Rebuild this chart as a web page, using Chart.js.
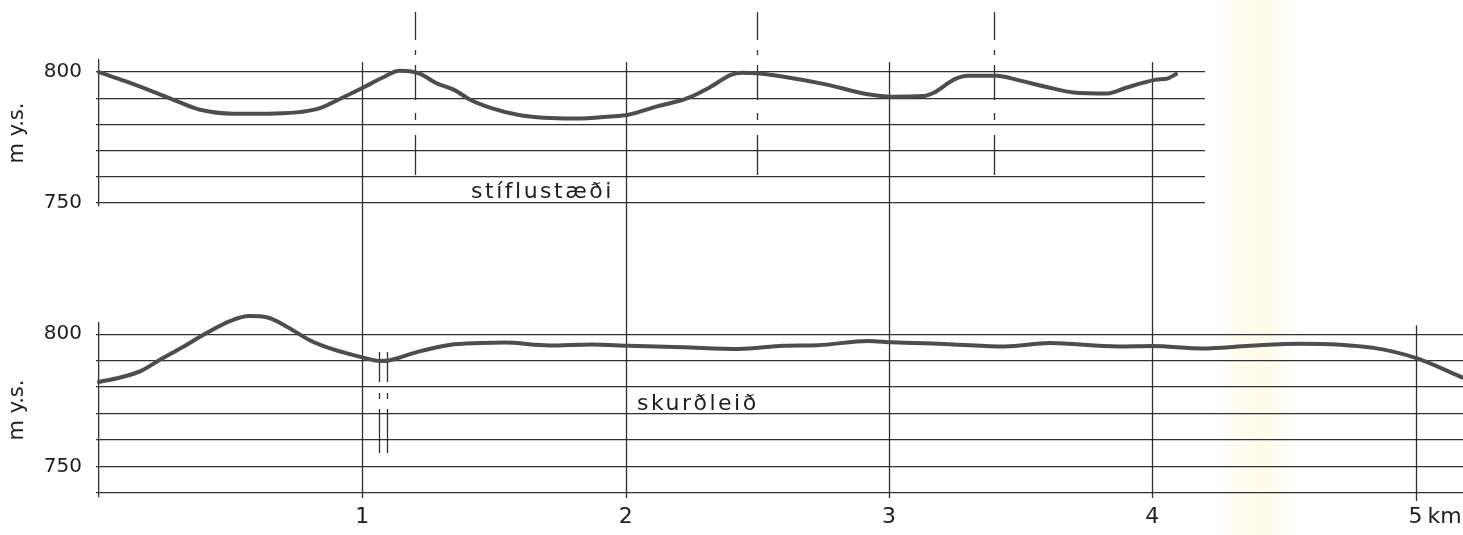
<!DOCTYPE html>
<html>
<head>
<meta charset="utf-8">
<script src="https://cdn.jsdelivr.net/npm/chart.js@4.4.1/dist/chart.umd.min.js"></script>
<style>
  html, body { margin: 0; padding: 0; }
  body {
    width: 1463px; height: 535px; overflow: hidden; position: relative;
    background: linear-gradient(to right, #fff 0, #fff 1215px, #fffcef 1240px, #fffbeb 1265px, #fff 1300px, #fff 100%);
  }
  canvas { position: absolute; left: 0; }
  #damChart { top: 0; }
  #canalChart { top: 300px; }
</style>
</head>
<body>
<canvas id="damChart" width="1463" height="300"></canvas>
<canvas id="canalChart" width="1463" height="235"></canvas>
<script>
// Distance ticks (km) shared by both profiles
const kmTicks = [1, 2, 3, 4, 5];
// Elevation grid (m above sea level)
const elevTicksTop = [750, 760, 770, 780, 790, 800];
const elevTicksBottom = [740, 750, 760, 770, 780, 790, 800];
const elevLabels = [750, 800];

// Profile along the dam sites (stíflustæði)
const damKm   = [0.00, 0.10, 0.20, 0.30, 0.38, 0.51, 0.64, 0.83, 0.92, 1.00, 1.08, 1.14, 1.18, 1.22, 1.28, 1.35, 1.41, 1.49, 1.59, 1.69, 1.81, 1.94, 2.01, 2.12, 2.23, 2.32, 2.40, 2.44, 2.50, 2.60, 2.76, 2.92, 3.01, 3.13, 3.17, 3.25, 3.30, 3.41, 3.49, 3.59, 3.70, 3.83, 3.90, 4.01, 4.06, 4.09];
const damElev = [800.0, 796.5, 792.7, 788.7, 785.7, 784.1, 784.1, 785.9, 790.0, 793.9, 798.0, 800.5, 800.3, 799.3, 795.8, 793.1, 789.4, 786.2, 783.7, 782.5, 782.2, 783.0, 783.7, 786.9, 789.8, 794.2, 798.9, 799.7, 799.5, 798.2, 795.3, 791.5, 790.6, 790.8, 792.1, 797.3, 798.6, 798.6, 796.9, 794.5, 792.2, 791.8, 794.0, 797.0, 797.6, 799.2];
// Dam axes marked with dash-dot lines
const damAxisKm = [1.2, 2.5, 3.4];

// Profile along the canal route (skurðleið)
const canalKm   = [0.00, 0.08, 0.16, 0.23, 0.32, 0.41, 0.50, 0.57, 0.64, 0.71, 0.80, 0.89, 1.00, 1.07, 1.10, 1.21, 1.33, 1.45, 1.54, 1.71, 1.87, 2.01, 2.22, 2.43, 2.60, 2.73, 2.92, 3.01, 3.23, 3.44, 3.61, 3.87, 4.00, 4.19, 4.37, 4.56, 4.84, 5.00, 5.18];
const canalElev = [781.9, 783.6, 786.1, 790.2, 795.2, 800.5, 805.0, 806.8, 806.3, 803.0, 797.7, 794.2, 791.2, 789.8, 790.0, 793.3, 795.9, 796.6, 796.8, 795.7, 796.1, 795.6, 795.0, 794.4, 795.6, 795.8, 797.4, 796.9, 796.2, 795.3, 796.6, 795.3, 795.5, 794.6, 795.6, 796.4, 794.8, 791.0, 783.5];
// Double break mark on the canal route
const canalBreakKm = [1.065, 1.094];

const INK = 'rgba(30,30,30,0.92)';
const TEXT = '#1e1e1e';
const CURVE = '#4d4d4d';
const FONT = '"DejaVu Sans", sans-serif';
// on/off lengths (px) along the marker lines, starting with a drawn piece
const DASH_DOT = [28, 10, 5, 10, 35, 13, 7, 15, 40];
const BREAK_DASH = [30, 11, 6, 10, 46];

function points(xs, ys) { return xs.map((x, i) => ({ x, y: ys[i] })); }

function noPadding(s) {
  s.paddingTop = 0; s.paddingBottom = 0; s.paddingLeft = 0; s.paddingRight = 0;
}

function elevAxis(min, max, ticks) {
  return {
    type: 'linear',
    min, max,
    afterBuildTicks: s => { s.ticks = ticks.map(v => ({ value: v })); },
    afterFit: s => { s.width = 99; noPadding(s); },
    border: { display: true, color: INK, width: 1.3 },
    grid: { color: INK, lineWidth: 1.2, tickLength: 3, drawTicks: true },
    ticks: {
      autoSkip: false, padding: 14, color: TEXT,
      font: { family: FONT, size: 20 },
      callback: v => elevLabels.includes(v) ? String(v) : ''
    },
    title: {
      display: true, text: 'm y.s.', color: TEXT,
      font: { family: FONT, size: 21 }, padding: { top: 5, bottom: 0 }
    }
  };
}

function profileDataset(xs, ys) {
  return {
    data: points(xs, ys),
    borderColor: CURVE,
    borderWidth: 4,
    pointRadius: 0,
    fill: false,
    clip: false,
    tension: 0.4,
    cubicInterpolationMode: 'monotone',
    borderCapStyle: 'round',
    borderJoinStyle: 'round'
  };
}

// vertical line; with a pattern it is drawn piece by piece (on, off, on, ...)
function vline(ctx, x, y0, y1, pattern) {
  const px = Math.round(x) + 0.5;
  ctx.save();
  ctx.strokeStyle = INK;
  ctx.lineWidth = 1.3;
  ctx.beginPath();
  if (!pattern) {
    ctx.moveTo(px, y0);
    ctx.lineTo(px, y1);
  } else {
    let y = y0, i = 0;
    while (y < y1) {
      const len = pattern[i % pattern.length];
      const end = Math.min(y + len, y1);
      if (i % 2 === 0) { ctx.moveTo(px, y); ctx.lineTo(px, end); }
      y = end; i++;
    }
  }
  ctx.stroke();
  ctx.restore();
}

function spacedText(ctx, text, x, y, size) {
  ctx.save();
  ctx.fillStyle = TEXT;
  ctx.font = size + 'px ' + FONT;
  ctx.letterSpacing = '2.5px';
  ctx.textAlign = 'left';
  ctx.textBaseline = 'alphabetic';
  ctx.fillText(text, x, y);
  ctx.restore();
}

const damDecor = {
  id: 'damDecor',
  beforeDatasetsDraw(chart) {
    const { ctx } = chart;
    const xs = chart.scales.x, ys = chart.scales.y;
    kmTicks.filter(k => k <= xs.max).forEach(k => {
      vline(ctx, xs.getPixelForValue(k), ys.getPixelForValue(803.8), chart.height);
    });
    damAxisKm.forEach(k => {
      vline(ctx, xs.getPixelForValue(k), 12, ys.getPixelForValue(760), DASH_DOT);
    });
  },
  afterDraw(chart) {
    const xs = chart.scales.x, ys = chart.scales.y;
    spacedText(chart.ctx, 'stíflustæði', xs.getPixelForValue(1.413), ys.getPixelForValue(751.9), 22);
  }
};

const canalDecor = {
  id: 'canalDecor',
  beforeDatasetsDraw(chart) {
    const { ctx } = chart;
    const xs = chart.scales.x, ys = chart.scales.y;
    const bottom = chart.chartArea.bottom;
    kmTicks.forEach(k => {
      const top = k <= 4 ? 0 : ys.getPixelForValue(803.3);
      vline(ctx, xs.getPixelForValue(k), top, bottom + (k <= 4 ? 1 : 4));
    });
    canalBreakKm.forEach(k => {
      vline(ctx, xs.getPixelForValue(k), ys.getPixelForValue(793.2), ys.getPixelForValue(755), BREAK_DASH);
    });
  },
  afterDraw(chart) {
    const { ctx } = chart;
    const xs = chart.scales.x, ys = chart.scales.y;
    spacedText(ctx, 'skurðleið', xs.getPixelForValue(2.043), ys.getPixelForValue(771.3), 22);
    // unit after the last distance label
    ctx.save();
    ctx.font = '22px ' + FONT;
    ctx.fillStyle = TEXT;
    ctx.textBaseline = 'middle';
    ctx.textAlign = 'left';
    const w5 = ctx.measureText('5').width;
    const lh = 22 * 1.2;
    ctx.fillText('km', xs.getPixelForValue(5) + w5 / 2 + 5, xs.top + 7 + lh / 2);
    ctx.restore();
  }
};

const common = {
  responsive: false,
  animation: false,
  events: [],
  plugins: { legend: { display: false }, tooltip: { enabled: false } }
};

new Chart(document.getElementById('damChart'), {
  type: 'line',
  data: { datasets: [profileDataset(damKm, damElev)] },
  options: {
    ...common,
    layout: { padding: { left: 0, right: 258, top: 60, bottom: 94 } },
    scales: {
      x: { type: 'linear', min: 0, max: 4.2, display: false },
      y: elevAxis(748.8, 804.6, elevTicksTop)
    }
  },
  plugins: [damDecor]
});

new Chart(document.getElementById('canalChart'), {
  type: 'line',
  data: { datasets: [profileDataset(canalKm, canalElev)] },
  options: {
    ...common,
    layout: { padding: { left: 0, right: 0, top: 23, bottom: 0 } },
    scales: {
      x: {
        type: 'linear', min: 0, max: 5.18,
        afterBuildTicks: s => { s.ticks = kmTicks.map(v => ({ value: v })); },
        afterFit: s => { s.height = 38; noPadding(s); },
        border: { display: false },
        grid: { display: false, drawTicks: false },
        ticks: {
          autoSkip: false, maxRotation: 0, padding: 7, color: TEXT,
          font: { family: FONT, size: 22 },
          callback: v => String(v)
        }
      },
      y: elevAxis(738.4, 804.2, elevTicksBottom)
    }
  },
  plugins: [canalDecor]
});
</script>
</body>
</html>
